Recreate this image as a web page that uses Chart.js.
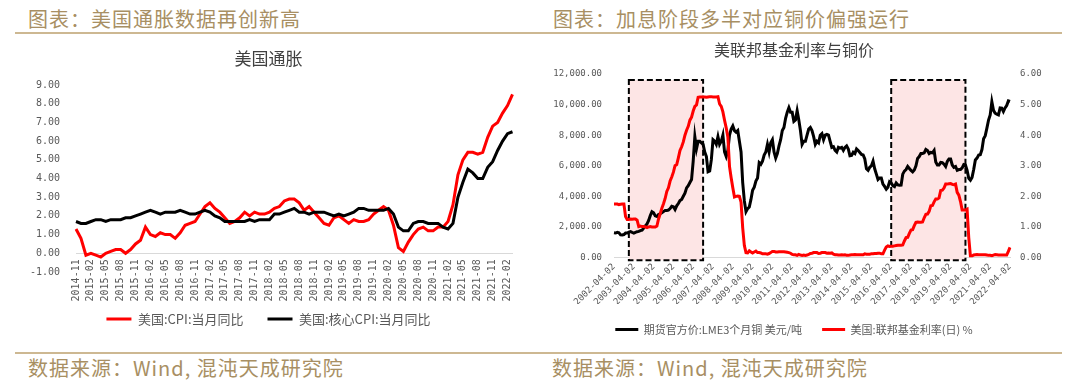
<!DOCTYPE html>
<html>
<head>
<meta charset="utf-8">
<script src="https://cdn.jsdelivr.net/npm/chart.js@4.4.1/dist/chart.umd.min.js"></script>
<style>
  html, body { margin: 0; padding: 0; background: #fff; }
  body { width: 1080px; height: 384px; position: relative; overflow: hidden; font-family: "Noto Sans CJK SC", sans-serif; }
  .head, .src { position: absolute; font-size: 20px; letter-spacing: 1px; line-height: 28px; color: #a88f63; white-space: nowrap; }
  .head { top: 5px; }
  .src { top: 354px; }
  .rule { position: absolute; left: 15px; width: 1047px; height: 2px; background: #cdb892; }
  .panel { position: absolute; top: 40px; width: 540px; }
</style>
</head>
<body>
<div class="head" style="left:28px">图表：美国通胀数据再创新高</div>
<div class="head" style="left:553px">图表：加息阶段多半对应铜价偏强运行</div>
<div class="rule" style="top:32px"></div>
<div class="panel" style="left:0;height:300px"><canvas id="cpiChart" width="540" height="300"></canvas></div>
<div class="panel" style="left:540px;height:305px"><canvas id="rateChart" width="540" height="305"></canvas></div>
<div class="rule" style="top:352px"></div>
<div class="src" style="left:28px">数据来源：Wind, 混沌天成研究院</div>
<div class="src" style="left:552px">数据来源：Wind, 混沌天成研究院</div>

<script>
// ---- 美国通胀 (月度, 2014-11 ~ 2022-03) ----
const cpiTicks = ['2014-11', '2015-02', '2015-05', '2015-08', '2015-11', '2016-02', '2016-05', '2016-08', '2016-11',
  '2017-02', '2017-05', '2017-08', '2017-11', '2018-02', '2018-05', '2018-08', '2018-11', '2019-02', '2019-05',
  '2019-08', '2019-11', '2020-02', '2020-05', '2020-08', '2020-11', '2021-02', '2021-05', '2021-08', '2021-11', '2022-02'];

const cpiYoy = [1.3, 0.8,
  -0.1, 0.0, -0.1, -0.2, 0.0, 0.1, 0.2, 0.2, 0.0, 0.2, 0.5, 0.7,
  1.4, 1.0, 0.9, 1.1, 1.0, 1.0, 0.8, 1.1, 1.5, 1.6, 1.7, 2.1,
  2.5, 2.7, 2.4, 2.2, 1.9, 1.6, 1.7, 1.9, 2.2, 2.0, 2.2, 2.1,
  2.1, 2.2, 2.4, 2.5, 2.8, 2.9, 2.9, 2.7, 2.3, 2.5, 2.2, 1.9,
  1.6, 1.5, 1.9, 2.0, 1.8, 1.6, 1.8, 1.7, 1.7, 1.8, 2.1, 2.3,
  2.5, 2.3, 1.5, 0.3, 0.1, 0.6, 1.0, 1.3, 1.4, 1.2, 1.2, 1.4,
  1.4, 1.7, 2.6, 4.2, 5.0, 5.4, 5.4, 5.3, 5.4, 6.2, 6.8, 7.0,
  7.5, 7.9, 8.5];

const coreCpiYoy = [1.7, 1.6,
  1.6, 1.7, 1.8, 1.8, 1.7, 1.8, 1.8, 1.8, 1.9, 1.9, 2.0, 2.1,
  2.2, 2.3, 2.2, 2.1, 2.2, 2.2, 2.2, 2.3, 2.2, 2.1, 2.1, 2.2,
  2.3, 2.2, 2.0, 1.9, 1.7, 1.7, 1.7, 1.7, 1.7, 1.8, 1.7, 1.8,
  1.8, 1.8, 2.1, 2.1, 2.2, 2.3, 2.4, 2.2, 2.2, 2.1, 2.2, 2.2,
  2.2, 2.1, 2.0, 2.1, 2.0, 2.1, 2.2, 2.4, 2.4, 2.3, 2.3, 2.3,
  2.3, 2.4, 2.1, 1.4, 1.2, 1.2, 1.6, 1.7, 1.7, 1.6, 1.6, 1.6,
  1.4, 1.3, 1.6, 3.0, 3.8, 4.5, 4.3, 4.0, 4.0, 4.6, 4.9, 5.5,
  6.0, 6.4, 6.5];

// ---- 美联邦基金利率与铜价 (月度, 2002-04 ~ 2022-04) ----
const rateTicks = ['2002-04-02', '2003-04-02', '2004-04-02', '2005-04-02', '2006-04-02', '2007-04-02', '2008-04-02',
  '2009-04-02', '2010-04-02', '2011-04-02', '2012-04-02', '2013-04-02', '2014-04-02', '2015-04-02', '2016-04-02',
  '2017-04-02', '2018-04-02', '2019-04-02', '2020-04-02', '2021-04-02', '2022-04-02'];

const copperPrice = [1620, 1600, 1650, 1620, 1480, 1470, 1500, 1600, 1600,
  1660, 1690, 1640, 1600, 1650, 1690, 1710, 1760, 1790, 1920, 2060, 2200,
  2420, 2750, 3000, 2930, 2720, 2680, 2810, 2860, 2930, 3000, 3080, 3080,
  3100, 3200, 3350, 3320, 3140, 3380, 3530, 3720, 3800, 4000, 4200, 4550,
  4700, 4900, 5100, 6300, 7900, 7100, 7600, 7600, 7500, 7400, 6900, 6600,
  5600, 5650, 6400, 7700, 7600, 7400, 7900, 7400, 7600, 8000, 6900, 6600,
  7000, 8000, 8400, 8600, 8300, 8200, 8300, 7600, 6900, 4900, 3700, 3000,
  3200, 3300, 3800, 4400, 4600, 5000, 5200, 6200, 6100, 6300, 6700, 6900,
  7400, 6900, 7500, 7700, 6900, 6500, 6800, 7300, 7700, 8300, 8500, 9100,
  9500, 9800, 9500, 9500, 8900, 9000, 9600, 9000, 8300, 7400, 7600, 7600,
  8000, 8400, 8500, 8300, 7900, 7400, 7600, 7500, 8000, 8100, 7700, 8000,
  8050, 8000, 7600, 7200, 7250, 7000, 6900, 7200, 7150, 7200, 7000, 7200,
  7300, 7100, 6650, 6670, 6880, 6800, 7100, 7000, 6870, 6740, 6700, 6440,
  5800, 5700, 5900, 6000, 6300, 5800, 5450, 5100, 5200, 5200, 4800, 4650,
  4470, 4600, 4950, 4870, 4700, 4640, 4870, 4750, 4720, 4730, 5450, 5650,
  5750, 5950, 5820, 5690, 5600, 5720, 5990, 6480, 6600, 6800, 6800, 6840,
  7070, 7000, 6800, 6870, 6850, 7000, 6250, 6050, 6050, 6220, 6200, 6100,
  5950, 6280, 6440, 6440, 6050, 5900, 5950, 5700, 5750, 5750, 5860, 6080,
  6050, 5690, 5180, 5060, 5240, 5750, 6380, 6500, 6700, 6720, 7060, 7770,
  7970, 8460, 8990, 9330, 10180, 9620, 9440, 9370, 9320, 9780, 9770, 9550,
  9780, 9940, 10240, 10200];

const fedFunds = [1.75, 1.75, 1.75, 1.73, 1.74, 1.75, 1.75, 1.34, 1.24,
  1.24, 1.26, 1.25, 1.26, 1.26, 1.22, 1.01, 1.03, 1.01, 1.01, 1.00, 0.98,
  1.00, 1.01, 1.00, 1.00, 1.00, 1.03, 1.26, 1.43, 1.61, 1.76, 1.93, 2.16,
  2.28, 2.50, 2.63, 2.79, 3.00, 3.04, 3.26, 3.50, 3.62, 3.78, 4.00, 4.16,
  4.29, 4.49, 4.59, 4.79, 4.94, 4.99, 5.24, 5.25, 5.25, 5.25, 5.25, 5.24,
  5.25, 5.26, 5.26, 5.25, 5.25, 5.25, 5.26, 5.02, 4.94, 4.76, 4.49, 4.24,
  3.94, 2.98, 2.61, 2.28, 1.98, 2.00, 2.01, 2.00, 1.81, 0.97, 0.39, 0.16,
  0.15, 0.22, 0.18, 0.15, 0.18, 0.21, 0.16, 0.16, 0.15, 0.12, 0.12, 0.12,
  0.11, 0.13, 0.16, 0.20, 0.20, 0.18, 0.18, 0.19, 0.19, 0.19, 0.19, 0.18,
  0.17, 0.16, 0.14, 0.10, 0.09, 0.09, 0.07, 0.10, 0.08, 0.07, 0.08, 0.07,
  0.08, 0.10, 0.13, 0.14, 0.16, 0.16, 0.16, 0.13, 0.14, 0.16, 0.16, 0.16,
  0.14, 0.15, 0.14, 0.15, 0.11, 0.09, 0.09, 0.08, 0.08, 0.09, 0.08, 0.09,
  0.07, 0.07, 0.08, 0.09, 0.09, 0.10, 0.09, 0.09, 0.09, 0.09, 0.09, 0.12,
  0.11, 0.11, 0.11, 0.12, 0.12, 0.13, 0.13, 0.14, 0.14, 0.12, 0.12, 0.24,
  0.34, 0.38, 0.36, 0.37, 0.37, 0.38, 0.39, 0.40, 0.40, 0.40, 0.41, 0.54,
  0.65, 0.66, 0.79, 0.90, 0.91, 1.04, 1.15, 1.16, 1.15, 1.15, 1.16, 1.30,
  1.41, 1.42, 1.51, 1.69, 1.70, 1.82, 1.91, 1.91, 1.95, 2.19, 2.20, 2.27,
  2.40, 2.40, 2.41, 2.42, 2.39, 2.38, 2.40, 2.13, 2.04, 1.83, 1.55, 1.55,
  1.55, 1.58, 0.65, 0.05, 0.05, 0.08, 0.09, 0.10, 0.09, 0.09, 0.09, 0.09,
  0.09, 0.08, 0.07, 0.07, 0.06, 0.08, 0.10, 0.09, 0.08, 0.08, 0.08, 0.08,
  0.08, 0.08, 0.20, 0.33];

// 加息阶段 (阴影框)
const hikeFrom = ['2003-01', '2016-04'];
const hikeTo = ['2006-10', '2020-01'];

// 月份类别
function buildMonths(year, month, count) {
  const out = [];
  for (let i = 0; i < count; i++) {
    const m = month - 1 + i;
    out.push(`${year + Math.floor(m / 12)}-${String(m % 12 + 1).padStart(2, '0')}`);
  }
  return out;
}
const cpiMonths = buildMonths(2014, 11, cpiYoy.length);
const rateMonths = buildMonths(2002, 4, copperPrice.length);

const gray = '#595959';
const tickFont = { family: '"DejaVu Sans Mono", monospace', size: 10 };
const smallTickFont = { family: '"DejaVu Sans Mono", monospace', size: 9 };

// 阴影框插件
const shadePlugin = {
  id: 'shade',
  beforeDatasetsDraw(chart) {
    const { ctx, scales: { x, y } } = chart;
    ctx.save();
    for (let i = 0; i < hikeFrom.length; i++) {
      const left = x.getPixelForValue(rateMonths.indexOf(hikeFrom[i]));
      const right = x.getPixelForValue(rateMonths.indexOf(hikeTo[i]));
      const top = y.getPixelForValue(11600);
      const bottom = y.getPixelForValue(-180);
      ctx.fillStyle = '#fde5e5';
      ctx.fillRect(left, top, right - left, bottom - top);
      ctx.setLineDash([6, 3]);
      ctx.lineWidth = 2;
      ctx.strokeStyle = '#000';
      ctx.strokeRect(left, top, right - left, bottom - top);
    }
    ctx.restore();
  }
};

new Chart(document.getElementById('cpiChart'), {
  type: 'line',
  data: {
    labels: cpiMonths,
    datasets: [
      { label: '美国:CPI:当月同比', data: cpiYoy, borderColor: '#ff0000', backgroundColor: '#ff0000',
        borderWidth: 3, pointRadius: 0, tension: 0, order: 1 },
      { label: '美国:核心CPI:当月同比', data: coreCpiYoy, borderColor: '#000000', backgroundColor: '#000000',
        borderWidth: 3, pointRadius: 0, tension: 0, order: 0 }
    ]
  },
  options: {
    responsive: false,
    animation: false,
    layout: { padding: { left: 24.5, right: 27.5, top: 0, bottom: 4.5 } },
    plugins: {
      title: {
        display: true, text: '美国通胀', color: '#404040',
        font: { family: '"Noto Sans CJK SC"', size: 17, weight: 'normal' },
        padding: { top: 8, bottom: 16.6 }
      },
      legend: {
        position: 'bottom',
        title: { display: true, text: '', font: { size: 10, lineHeight: 1 }, padding: { top: 6.5, bottom: 0 } },
        labels: {
          usePointStyle: true, pointStyle: 'line', pointStyleWidth: 25, padding: 24,
          color: gray, font: { family: '"Noto Sans CJK SC"', size: 13 },
          sort: (a, b) => a.datasetIndex - b.datasetIndex
        }
      },
      tooltip: { enabled: false }
    },
    scales: {
      x: {
        position: { y: 0 },
        grid: { display: false, drawTicks: false },
        border: { color: '#d9d9d9', width: 1 },
        ticks: {
          autoSkip: false, minRotation: 90, maxRotation: 90, padding: 6,
          color: gray, font: tickFont,
          callback: (v, i) => (i % 3 === 0 ? cpiTicks[i / 3] : null)
        }
      },
      y: {
        min: -1, max: 9,
        grid: { display: false, drawTicks: false },
        border: { display: false },
        afterFit: (scale) => { scale.width = 51.5; },
        ticks: {
          stepSize: 1, padding: 16, color: gray, font: tickFont,
          callback: (v) => v.toFixed(2)
        }
      }
    }
  }
});

new Chart(document.getElementById('rateChart'), {
  type: 'line',
  data: {
    labels: rateMonths,
    datasets: [
      { label: '期货官方价:LME3个月铜 美元/吨', data: copperPrice, borderColor: '#000000', backgroundColor: '#000000',
        borderWidth: 3, pointRadius: 0, tension: 0, yAxisID: 'y', order: 1 },
      { label: '美国:联邦基金利率(日) %', data: fedFunds, borderColor: '#ff0000', backgroundColor: '#ff0000',
        borderWidth: 3, pointRadius: 0, tension: 0, yAxisID: 'y1', order: 0 }
    ]
  },
  options: {
    responsive: false,
    animation: false,
    layout: { padding: { left: 0, right: 32, top: 0, bottom: 0 } },
    plugins: {
      title: {
        display: true, text: '美联邦基金利率与铜价', color: '#404040',
        font: { family: '"Noto Sans CJK SC"', size: 16, weight: 'normal' },
        padding: { top: 0.4, bottom: 14.4 }
      },
      legend: {
        position: 'bottom',
        labels: {
          usePointStyle: true, pointStyle: 'line', pointStyleWidth: 23, padding: 20,
          color: gray, font: { family: '"Noto Sans CJK SC"', size: 11 },
          sort: (a, b) => a.datasetIndex - b.datasetIndex
        }
      },
      tooltip: { enabled: false }
    },
    scales: {
      x: {
        grid: { display: false, drawTicks: false },
        border: { color: '#d9d9d9', width: 1 },
        afterFit: (scale) => { scale.height = 46.5; },
        ticks: {
          autoSkip: false, minRotation: 45, maxRotation: 45, padding: 4,
          color: gray, font: smallTickFont,
          callback: (v, i) => (i % 12 === 0 ? rateTicks[i / 12] : null)
        }
      },
      y: {
        position: 'left', min: 0, max: 12000,
        grid: { display: false, drawTicks: false },
        border: { display: false },
        afterFit: (scale) => { scale.width = 74; },
        ticks: {
          stepSize: 2000, padding: 12, color: gray, font: smallTickFont,
          callback: (v) => v.toLocaleString('en-US', { minimumFractionDigits: 2, maximumFractionDigits: 2 })
        }
      },
      y1: {
        position: 'right', min: 0, max: 6,
        grid: { display: false, drawTicks: false },
        border: { display: false },
        afterFit: (scale) => { scale.width = 38; },
        ticks: {
          stepSize: 1, padding: 10, color: gray, font: smallTickFont,
          callback: (v) => v.toFixed(2)
        }
      }
    }
  },
  plugins: [shadePlugin]
});
</script>
</body>
</html>
